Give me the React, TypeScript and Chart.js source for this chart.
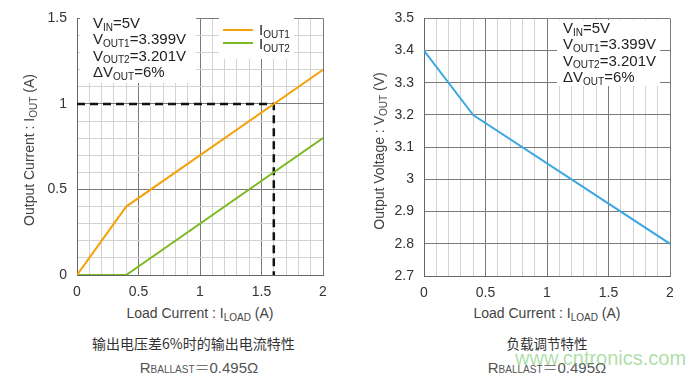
import React, { useEffect, useRef } from 'react';
import { Chart, registerables } from 'chart.js';
Chart.register(...registerables);

// ---------- data ----------
const loadX = [0, 0.4, 2];
const iout1 = [0, 0.4, 1.2];
const iout2 = [0, 0, 0.8];
const guideX = [0, 1.6, 1.6];
const guideY = [1, 1, 0];
const voutX = [0, 0.4, 2];
const vout = [3.4, 3.2, 2.8];

const xMajor = [0, 0.5, 1, 1.5, 2];
const xTickLabels = ['0', '0.5', '1', '1.5', '2'];
const leftYMajor = [0, 0.5, 1, 1.5];
const leftYTickLabels = ['0', '0.5', '1', '1.5'];
const rightYMajor = [2.7, 2.8, 2.9, 3, 3.1, 3.2, 3.3, 3.4, 3.5];
const rightYTickLabels = ['2.7', '2.8', '2.9', '3', '3.1', '3.2', '3.3', '3.4', '3.5'];

const annoLines: [string, boolean][][] = [
  [['V', false], ['IN', true], ['=5V', false]],
  [['V', false], ['OUT1', true], ['=3.399V', false]],
  [['V', false], ['OUT2', true], ['=3.201V', false]],
  [['\u0394V', false], ['OUT', true], ['=6%', false]],
];

const FONT = '"Liberation Sans", Arial, sans-serif';
const ORANGE = '#F5A30C';
const GREEN = '#7CBA22';
const BLUE = '#3EA8E2';

function gridVals(min: number, max: number, step: number) {
  const out: { value: number }[] = [];
  const n = Math.round((max - min) / step);
  for (let i = 0; i <= n; i++) out.push({ value: Math.round((min + i * step) * 1000) / 1000 });
  return out;
}

function findMajor(v: number, majors: number[]) {
  for (let i = 0; i < majors.length; i++) if (Math.abs(majors[i] - v) < 1e-6) return i;
  return -1;
}

function drawRich(ctx: CanvasRenderingContext2D, x: number, y: number, segs: [string, boolean][], size: number, subSize: number) {
  let cx = x;
  ctx.textBaseline = 'middle';
  ctx.textAlign = 'left';
  for (const [t, sub] of segs) {
    ctx.font = `${sub ? subSize : size}px ${FONT}`;
    ctx.fillText(t, cx, sub ? y + 4 : y);
    cx += ctx.measureText(t).width;
  }
}

function makeScale(min: number, max: number, step: number, majors: number[], labels: string[], majorOnly: boolean, axis: 'x' | 'y', fixed: number) {
  return {
    type: 'linear',
    min,
    max,
    afterBuildTicks: (s: any) => {
      s.ticks = gridVals(min, max, step);
    },
    afterFit: (s: any) => {
      if (axis === 'x') s.height = fixed;
      else s.width = fixed;
    },
    ticks: {
      autoSkip: false,
      maxRotation: 0,
      padding: axis === 'x' ? 9 : 10,
      color: '#333',
      font: { size: 14, family: FONT },
      callback: (v: number) => {
        const i = findMajor(v, majors);
        return i >= 0 ? labels[i] : '';
      },
    },
    grid: {
      drawTicks: false,
      lineWidth: 1,
      color: (c: any) => {
        const v = c.tick ? c.tick.value : 0;
        if (majorOnly) return '#7a7a7a';
        return findMajor(v, majors) >= 0 ? '#7a7a7a' : '#d2d2d2';
      },
    },
    border: { color: '#666', width: 1 },
  };
}

function pts(xs: number[], ys: number[]) {
  return xs.map((x, i) => ({ x, y: ys[i] }));
}

function LeftChart() {
  const ref = useRef<HTMLCanvasElement>(null);
  useEffect(() => {
    const annoPlugin = {
      id: 'annoLeft',
      beforeDatasetsDraw(chart: any) {
        const ctx = chart.ctx as CanvasRenderingContext2D;
        ctx.save();
        ctx.fillStyle = '#fff';
        ctx.fillRect(80, 13, 116, 70);
        ctx.fillRect(219, 13, 75, 46);
        ctx.fillStyle = '#222';
        annoLines.forEach((l, i) => drawRich(ctx, 93, 24 + i * 16.3, l, 15, 10));
        // legend
        ctx.lineWidth = 2;
        ctx.strokeStyle = ORANGE;
        ctx.beginPath();
        ctx.moveTo(223, 30);
        ctx.lineTo(253, 30);
        ctx.stroke();
        ctx.strokeStyle = GREEN;
        ctx.beginPath();
        ctx.moveTo(223, 43);
        ctx.lineTo(253, 43);
        ctx.stroke();
        ctx.fillStyle = '#222';
        drawRich(ctx, 259, 31, [['I', false], ['OUT1', true]], 15, 10);
        drawRich(ctx, 259, 45, [['I', false], ['OUT2', true]], 15, 10);
        ctx.restore();
      },
    };
    const chart = new Chart(ref.current!, {
      type: 'line',
      data: {
        datasets: [
          { data: pts(loadX, iout1), borderColor: ORANGE, borderWidth: 2, pointRadius: 0, tension: 0 },
          { data: pts(loadX, iout2), borderColor: GREEN, borderWidth: 2, pointRadius: 0, tension: 0 },
          { data: pts(guideX, guideY), borderColor: '#111', borderWidth: 2.5, borderDash: [8, 5], pointRadius: 0, tension: 0 },
        ],
      } as any,
      options: {
        responsive: false,
        animation: false,
        layout: { padding: { top: 12, right: 27, left: 0, bottom: 0 } },
        plugins: { legend: { display: false }, tooltip: { enabled: false } },
        scales: {
          x: makeScale(0, 2, 0.1, xMajor, xTickLabels, false, 'x', 25) as any,
          y: makeScale(0, 1.5, 0.1, leftYMajor, leftYTickLabels, false, 'y', 77) as any,
        },
      },
      plugins: [annoPlugin],
    });
    return () => chart.destroy();
  }, []);
  return <canvas ref={ref} width={350} height={300} style={{ position: 'absolute', left: 0, top: 0 }} />;
}

function RightChart() {
  const ref = useRef<HTMLCanvasElement>(null);
  useEffect(() => {
    const annoPlugin = {
      id: 'annoRight',
      beforeDatasetsDraw(chart: any) {
        const ctx = chart.ctx as CanvasRenderingContext2D;
        ctx.save();
        ctx.fillStyle = '#fff';
        ctx.fillRect(207, 20, 103, 66);
        ctx.fillStyle = '#222';
        annoLines.forEach((l, i) => drawRich(ctx, 213, 29 + i * 16.3, l, 15, 10));
        ctx.restore();
      },
    };
    const chart = new Chart(ref.current!, {
      type: 'line',
      data: {
        datasets: [
          { data: pts(voutX, vout), borderColor: BLUE, borderWidth: 2, pointRadius: 0, tension: 0 },
        ],
      } as any,
      options: {
        responsive: false,
        animation: false,
        layout: { padding: { top: 12, right: 30, left: 0, bottom: 0 } },
        plugins: { legend: { display: false }, tooltip: { enabled: false } },
        scales: {
          x: makeScale(0, 2, 0.1, xMajor, xTickLabels, false, 'x', 24) as any,
          y: makeScale(2.7, 3.5, 0.1, rightYMajor, rightYTickLabels, true, 'y', 74) as any,
        },
      },
      plugins: [annoPlugin],
    });
    return () => chart.destroy();
  }, []);
  return <canvas ref={ref} width={350} height={300} style={{ position: 'absolute', left: 350, top: 0 }} />;
}

const sub: React.CSSProperties = { fontSize: 10, verticalAlign: -3 };
const titleStyle: React.CSSProperties = {
  position: 'absolute',
  fontFamily: FONT,
  fontSize: 14,
  color: '#444',
  whiteSpace: 'nowrap',
  textAlign: 'center',
  lineHeight: '20px',
  height: 20,
};

function Ballast({ cx }: { cx: number }) {
  return (
    <div style={{ position: 'absolute', left: cx - 100, width: 200, top: 356, lineHeight: '22px', textAlign: 'center', color: '#555', fontFamily: FONT, fontSize: 15, whiteSpace: 'nowrap' }}>
      R<span style={{ fontSize: 10 }}>BALLAST</span>
      <span style={{ fontFamily: '"Noto Sans CJK SC", sans-serif', fontWeight: 300 }}>＝</span>0.495Ω
    </div>
  );
}

export default function App() {
  return (
    <div style={{ position: 'absolute', left: 0, top: 0, width: 700, height: 375, background: '#fff', overflow: 'hidden' }}>
      <LeftChart />
      <RightChart />
      {/* axis titles */}
      <div style={{ ...titleStyle, left: 29 - 150, top: 150 - 10, width: 300, transform: 'rotate(-90deg)' }}>
        Output Current : I<span style={sub}>OUT</span> (A)
      </div>
      <div style={{ ...titleStyle, left: 379 - 150, top: 151 - 10, width: 300, transform: 'rotate(-90deg)' }}>
        Output Voltage : V<span style={sub}>OUT</span> (V)
      </div>
      <div style={{ ...titleStyle, left: 50, top: 303, width: 300 }}>
        Load Current : I<span style={sub}>LOAD</span> (A)
      </div>
      <div style={{ ...titleStyle, left: 397, top: 303, width: 300 }}>
        Load Current : I<span style={sub}>LOAD</span> (A)
      </div>
      {/* captions */}
      <div style={{ position: 'absolute', left: 92, width: 200, top: 333, lineHeight: '20px', textAlign: 'center', fontFamily: '"Noto Sans CJK SC", sans-serif', fontSize: 14, color: '#333', whiteSpace: 'nowrap' }}>
        输出电压差6%时的输出电流特性
      </div>
      <div style={{ position: 'absolute', left: 447, width: 200, top: 333, lineHeight: '20px', textAlign: 'center', fontFamily: '"Noto Sans CJK SC", sans-serif', fontSize: 13.5, color: '#333', whiteSpace: 'nowrap' }}>
        负载调节特性
      </div>
      <Ballast cx={199} />
      <Ballast cx={547} />
      <div style={{ position: 'absolute', left: 515, top: 346, lineHeight: '24px', fontFamily: FONT, fontSize: 20, color: 'rgba(120, 200, 110, 0.6)', whiteSpace: 'nowrap' }}>
        www.cntronics.com
      </div>
    </div>
  );
}
